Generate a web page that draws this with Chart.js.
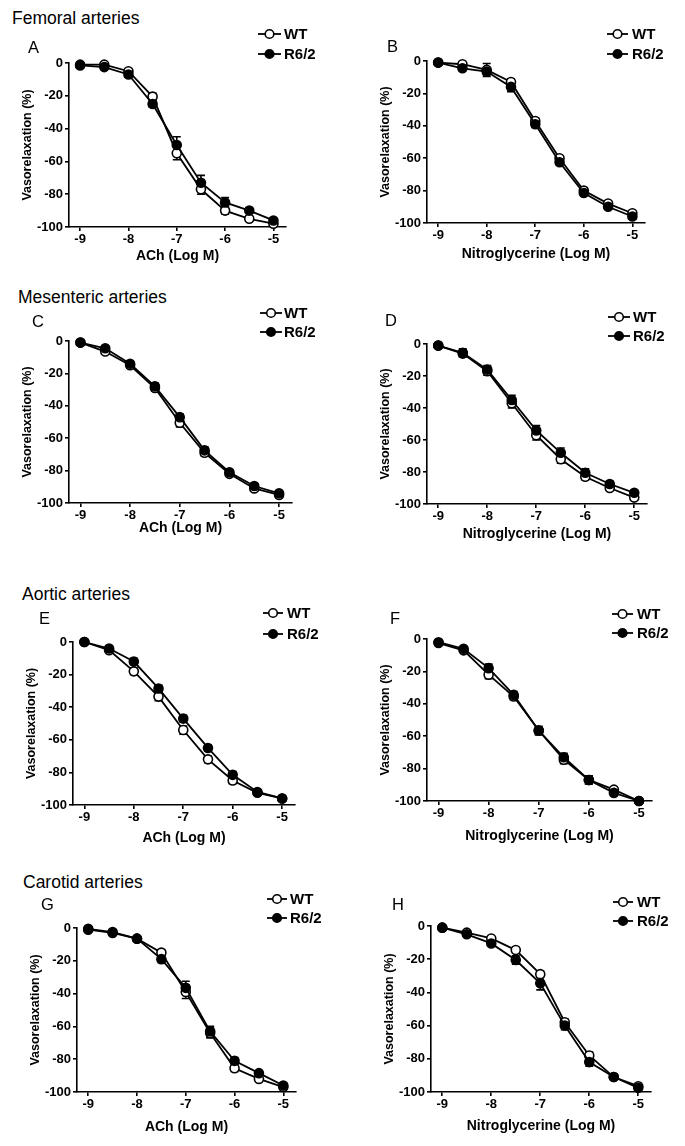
<!DOCTYPE html>
<html>
<head>
<meta charset="utf-8">
<script src="https://cdn.jsdelivr.net/npm/chart.js@4.4.1/dist/chart.umd.min.js"></script>
<style>
body { margin: 0; background: #fff; width: 685px; height: 1146px; position: relative; overflow: hidden; font-family: "Liberation Sans", Arial, sans-serif; }
.sec { position: absolute; font-size: 17.5px; line-height: 1; color: #000; white-space: nowrap; }
canvas { position: absolute; }
</style>
</head>
<body>
<script>
const doses = [-9, -8.5, -8, -7.5, -7, -6.5, -6, -5.5, -5];
const xTickValues = [-9, -8, -7, -6, -5];
const xTickLabels = ["-9", "-8", "-7", "-6", "-5"];
const yTickValues = [0, -20, -40, -60, -80, -100];
const yTickLabels = ["0", "-20", "-40", "-60", "-80", "-100"];
const seriesNames = ["WT", "R6/2"];
const sectionTitles = ["Femoral arteries", "Mesenteric arteries", "Aortic arteries", "Carotid arteries"];
const panelLetters = ["A", "B", "C", "D", "E", "F", "G", "H"];
const xAxisTitles = ["ACh (Log M)", "Nitroglycerine (Log M)"];
const yAxisTitle = "Vasorelaxation (%)";

// A: femoral, ACh
const femAchWT     = [-1, -1, -5, -20.5, -55, -77, -90, -95, -98];
const femAchWTErr  = [1, 1, 1.5, 2, 4, 3, 2, 1.5, 1];
const femAchR62    = [-1.5, -2.5, -7, -25, -50, -73, -85, -90, -96];
const femAchR62Err = [1, 1, 1.5, 2, 5, 4.5, 3, 1.5, 1];
// B: femoral, nitroglycerine
const femNtgWT     = [-1, -2, -5.5, -13, -37, -60, -80, -88, -94];
const femNtgWTErr  = [1, 1, 4, 2, 2, 1.5, 1.5, 1.5, 1];
const femNtgR62    = [-1, -4.5, -6.5, -16, -39, -62.5, -81.5, -90, -96];
const femNtgR62Err = [1, 1.5, 2, 3, 2, 1.5, 1.5, 1.5, 1.5];
// C: mesenteric, ACh
const mesAchWT     = [-1, -6.5, -15, -29, -50.5, -69, -82, -91, -95];
const mesAchWTErr  = [1, 1, 1, 2, 2.5, 2, 1.5, 1.5, 1.5];
const mesAchR62    = [-1, -4.5, -14, -28, -47, -67.5, -81, -89.5, -94];
const mesAchR62Err = [1, 1, 1, 2, 2, 2, 1.5, 1.5, 1];
// D: mesenteric, nitroglycerine
const mesNtgWT     = [-1, -6, -17, -37, -57, -72, -83, -90, -96];
const mesNtgWTErr  = [1, 2, 2.5, 3, 3, 2.5, 2, 1.5, 1.5];
const mesNtgR62    = [-1, -5.5, -16, -35, -54, -68, -80.5, -87.5, -93];
const mesNtgR62Err = [1, 2.5, 2.5, 3, 3, 3, 2.5, 1.5, 1];
// E: aortic, ACh
const aorAchWT     = [0, -5, -18, -33.5, -54, -72, -85, -92.5, -96];
const aorAchWTErr  = [0.5, 1, 2, 2.5, 2.5, 2, 2, 1, 1];
const aorAchR62    = [0, -4, -12, -28.5, -47, -65, -81.5, -92, -96];
const aorAchR62Err = [0.5, 1, 2, 2, 2, 2, 2, 1, 1];
// F: aortic, nitroglycerine
const aorNtgWT     = [-2.5, -7, -22, -35.5, -56.5, -74.5, -87, -93, -100];
const aorNtgWTErr  = [1, 1, 2.5, 2, 2.5, 2.5, 2.5, 1.5, 0.5];
const aorNtgR62    = [-2, -6, -18, -34.5, -56.5, -73, -87, -95, -100];
const aorNtgR62Err = [1, 1, 2.5, 2, 2.5, 2.5, 2.5, 1.5, 0.5];
// G: carotid, ACh
const carAchWT     = [-0.5, -2.5, -6.5, -15, -39, -64, -85.5, -92, -97];
const carAchWTErr  = [1, 1, 1, 1.5, 4, 3, 2, 1.5, 1.5];
const carAchR62    = [-1, -3, -6.5, -19, -36.5, -63, -81, -88.5, -96];
const carAchR62Err = [1, 1, 1, 2, 4, 3, 2, 1.5, 1.5];
// H: carotid, nitroglycerine
const carNtgWT     = [-1, -4, -7.5, -14.5, -29, -58, -78, -91, -96.5];
const carNtgWTErr  = [1, 1, 1, 1.5, 2, 2, 2, 1, 1];
const carNtgR62    = [-1, -5, -10.5, -20.5, -34.5, -60, -82, -91, -97.5];
const carNtgR62Err = [1, 1, 1, 2.5, 4, 2.5, 2.5, 1, 1];

Chart.defaults.font.family = "'Liberation Sans', Arial, sans-serif";
Chart.defaults.color = "#000";

// section titles (page positions)
const secPos = [[12, 10], [18, 289], [22, 586], [23, 874]];
sectionTitles.forEach((t, i) => {
    const d = document.createElement("div");
    d.className = "sec";
    d.textContent = t;
    d.style.left = secPos[i][0] + "px";
    d.style.top = secPos[i][1] + "px";
    document.body.appendChild(d);
});

// layout of each panel, in page pixels
const panels = [
    { wt: femAchWT, wtE: femAchWTErr, mu: femAchR62, muE: femAchR62Err, xt: 0, cx: 0,   l: 69,  t: 63,  b: 227,  r: 286, letter: [28, 48],   leg: [258, 281, 284, 34, 54],   gap: 30 },
    { wt: femNtgWT, wtE: femNtgWTErr, mu: femNtgR62, muE: femNtgR62Err, xt: 1, cx: 340, l: 427, t: 61,  b: 223,  r: 645, letter: [387, 47],  leg: [607, 628, 632, 34, 54],   gap: 32 },
    { wt: mesAchWT, wtE: mesAchWTErr, mu: mesAchR62, muE: mesAchR62Err, xt: 0, cx: 0,   l: 69,  t: 341, b: 503,  r: 292, letter: [32, 322],  leg: [260, 282, 284, 313, 332], gap: 26 },
    { wt: mesNtgWT, wtE: mesNtgWTErr, mu: mesNtgR62, muE: mesNtgR62Err, xt: 1, cx: 340, l: 427, t: 344, b: 504,  r: 647, letter: [385, 321], leg: [608, 630, 633, 317, 336], gap: 31 },
    { wt: aorAchWT, wtE: aorAchWTErr, mu: aorAchR62, muE: aorAchR62Err, xt: 0, cx: 0,   l: 73,  t: 642, b: 805,  r: 295, letter: [39, 619],  leg: [263, 283, 287, 613, 634], gap: 34 },
    { wt: aorNtgWT, wtE: aorNtgWTErr, mu: aorNtgR62, muE: aorNtgR62Err, xt: 1, cx: 340, l: 427, t: 639, b: 801,  r: 652, letter: [390, 619], leg: [612, 633, 637, 614, 633], gap: 36 },
    { wt: carAchWT, wtE: carAchWTErr, mu: carAchR62, muE: carAchR62Err, xt: 0, cx: 0,   l: 77,  t: 928, b: 1092, r: 296, letter: [41, 905],  leg: [267, 287, 290, 899, 918], gap: 36 },
    { wt: carNtgWT, wtE: carNtgWTErr, mu: carNtgR62, muE: carNtgR62Err, xt: 1, cx: 340, l: 431, t: 926, b: 1092, r: 651, letter: [392, 905], leg: [613, 633, 637, 902, 921], gap: 35 }
];

const tickFont = { size: 13, weight: "bold" };

// ---------------- ERROR BARS ----------------
const errorBars = {
    id: "errorBars",
    beforeDatasetsDraw(chart) {
        const { ctx, scales: { x, y } } = chart;
        ctx.save();
        ctx.strokeStyle = "#000";
        ctx.lineWidth = 1.6;
        chart.data.datasets.forEach(ds => {
            ds.data.forEach((pt, i) => {
                const e = ds.err[i];
                if (!e) return;
                const px = x.getPixelForValue(pt.x);
                const y1 = y.getPixelForValue(pt.y + e);
                const y2 = y.getPixelForValue(pt.y - e);
                ctx.beginPath();
                ctx.moveTo(px, y1); ctx.lineTo(px, y2);
                ctx.moveTo(px - 4, y1); ctx.lineTo(px + 4, y1);
                ctx.moveTo(px - 4, y2); ctx.lineTo(px + 4, y2);
                ctx.stroke();
            });
        });
        ctx.restore();
    }
};

function buildPanel(p, idx) {
    const W = p.cx ? 345 : 340;
    const top = p.t - 60;
    const xH = p.gap + 12;
    const H = (p.b - p.t) + 60 + xH + 5;

    const cv = document.createElement("canvas");
    cv.width = W; cv.height = H;
    cv.style.left = p.cx + "px";
    cv.style.top = top + "px";
    cv.style.width = W + "px";
    cv.style.height = H + "px";
    document.body.appendChild(cv);

    // panel letter + legend
    const decor = {
        id: "decor",
        afterDraw(chart) {
            const ctx = chart.ctx;
            ctx.save();
            ctx.fillStyle = "#000";
            ctx.textBaseline = "middle";
            ctx.font = "16.5px 'Liberation Sans', Arial, sans-serif";
            ctx.fillText(panelLetters[idx], p.letter[0] - p.cx, p.letter[1] - top);

            const [x0, x1, tx, yA, yB] = p.leg;
            [yA, yB].forEach((yy, k) => {
                const ly = yy - top;
                ctx.strokeStyle = "#000";
                ctx.lineWidth = 1.8;
                ctx.beginPath();
                ctx.moveTo(x0 - p.cx, ly); ctx.lineTo(x1 - p.cx, ly);
                ctx.stroke();
                ctx.beginPath();
                ctx.arc((x0 + x1) / 2 - p.cx, ly, 4.3, 0, Math.PI * 2);
                ctx.fillStyle = k === 0 ? "#fff" : "#000";
                ctx.fill();
                ctx.lineWidth = 1.6;
                ctx.stroke();
                ctx.fillStyle = "#000";
                ctx.font = "bold 15px 'Liberation Sans', Arial, sans-serif";
                ctx.fillText(seriesNames[k], tx - p.cx, ly + 0.5);
            });
            ctx.restore();
        }
    };

    new Chart(cv, {
        type: "line",
        data: {
            datasets: [
                {
                    label: seriesNames[0],
                    data: doses.map((x, i) => ({ x, y: p.wt[i] })),
                    err: p.wtE,
                    borderColor: "#000", borderWidth: 1.8,
                    pointRadius: 4.5, pointBackgroundColor: "#fff",
                    pointBorderColor: "#000", pointBorderWidth: 1.6,
                    order: 2, clip: false
                },
                {
                    label: seriesNames[1],
                    data: doses.map((x, i) => ({ x, y: p.mu[i] })),
                    err: p.muE,
                    borderColor: "#000", borderWidth: 1.8,
                    pointRadius: 4.5, pointBackgroundColor: "#000",
                    pointBorderColor: "#000", pointBorderWidth: 1.6,
                    order: 1, clip: false
                }
            ]
        },
        options: {
            responsive: false,
            animation: false,
            devicePixelRatio: 1,
            layout: { padding: { left: p.l - p.cx - 53, right: W - (p.r - p.cx), top: 60, bottom: 5 } },
            plugins: { legend: { display: false }, tooltip: { enabled: false } },
            scales: {
                x: {
                    type: "linear", min: -9.23, max: -4.74,
                    afterBuildTicks: s => { s.ticks = xTickValues.map(v => ({ value: v })); },
                    afterFit: s => { s.height = xH; },
                    ticks: { callback: (v, i) => xTickLabels[i], color: "#000", font: tickFont, padding: 1, maxRotation: 0, autoSkip: false },
                    grid: { display: true, drawOnChartArea: false, tickLength: 4, color: "#000", lineWidth: 1.6 },
                    border: { display: true, color: "#000", width: 1.6 },
                    title: { display: true, text: xAxisTitles[p.xt], color: "#000", font: { size: 14, weight: "bold" }, padding: 4 }
                },
                y: {
                    min: -100, max: 0,
                    afterBuildTicks: s => { s.ticks = yTickValues.map(v => ({ value: v })); },
                    afterFit: s => { s.width = 53; },
                    ticks: { callback: (v, i) => yTickLabels[i], color: "#000", font: tickFont, padding: 2, autoSkip: false },
                    grid: { display: true, drawOnChartArea: false, tickLength: 4, color: "#000", lineWidth: 1.6 },
                    border: { display: true, color: "#000", width: 1.6 },
                    title: { display: true, text: yAxisTitle, color: "#000", font: { size: 12.5, weight: "bold" }, padding: 4 }
                }
            }
        },
        plugins: [errorBars, decor]
    });
}

// ---------------- INIT ----------------
panels.forEach(buildPanel);
</script>
</body>
</html>
